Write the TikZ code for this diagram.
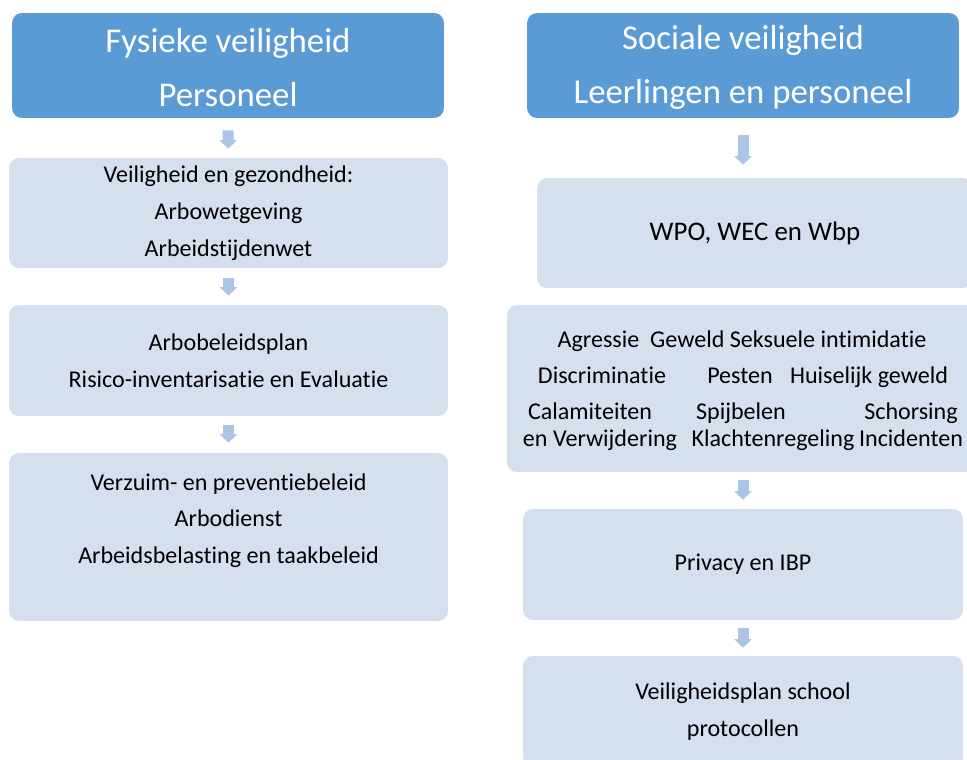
\documentclass[tikz,border=0pt]{standalone}
\usepackage{fontspec}
\setmainfont{Carlito}[Ligatures={NoCommon}]
\usetikzlibrary{arrows.meta}
\definecolor{headblue}{RGB}{91,155,213}
\definecolor{boxblue}{RGB}{213,224,239}
\definecolor{arrowblue}{RGB}{172,196,230}
\begin{document}
\begin{tikzpicture}
[x=0.02cm, y=-0.02cm,
head/.style={rounded corners=0.2cm, fill=headblue, text=white, align=center,
  font=\fontsize{19.8}{30.6}\selectfont, minimum width=8.64cm, minimum height=2.1cm},
box/.style={rounded corners=0.2cm, fill=boxblue, align=center,
  font=\fontsize{13.7}{21}\selectfont},
item/.style={anchor=base, font=\fontsize{13.7}{21}\selectfont},
flow/.style={draw=arrowblue, line width=0.22cm, -{Triangle[width=0.34cm, length=0.17cm]}}
]
\useasboundingbox (0,0) rectangle (967,760);
\clip (0,0) rectangle (967,760);

% Fysieke veiligheid
\node[head] (h1) at (228,65.5) {\rule{0pt}{16pt}Fysieke veiligheid\\Personeel};
\node[box, minimum width=8.78cm, minimum height=2.2cm] (l1) at (228.5,213)
  {Veiligheid en gezondheid:\\Arbowetgeving\\Arbeidstijdenwet};
\node[box, minimum width=8.78cm, minimum height=2.22cm] (l2) at (228.5,360.5)
  {Arbobeleidsplan\\Risico-inventarisatie en Evaluatie};
\node[box, minimum width=8.78cm, minimum height=3.36cm] (l3) at (228.5,537)
  {Verzuim- en preventiebeleid\\Arbodienst\\Arbeidsbelasting en taakbeleid\\\mbox{}};

\draw[flow, shorten <=12*0.02cm, shorten >=9*0.02cm] (h1) -- (l1);
\draw[flow, shorten <=10*0.02cm, shorten >=9*0.02cm] (l1) -- (l2);
\draw[flow, shorten <=9*0.02cm, shorten >=10*0.02cm] (l2) -- (l3);

% Sociale veiligheid
\node[head] (h2) at (743,65.5) {\rule{0pt}{16pt}Sociale veiligheid\\Leerlingen en personeel};
\node[box, minimum width=8.72cm, minimum height=2.2cm, font=\fontsize{15.3}{21}\selectfont] (r1) at (755,233)
  {WPO, WEC en Wbp};
\node[box, minimum width=9.4cm, minimum height=3.34cm] (r2) at (742,388.5) {};
\node[box, minimum width=8.8cm, minimum height=2.22cm] (r3) at (743,564.5)
  {Privacy en IBP};
\node[box, minimum width=8.8cm, minimum height=2.22cm] (r4) at (743,711.5)
  {Veiligheidsplan school\\protocollen};

\node[item] (t1) at (742,347) {Agressie\ \ Geweld Seksuele intimidatie};
\node[item] (t2) at (602,383) {Discriminatie};
\node[item] (t3) at (740,383) {Pesten};
\node[item] (t4) at (869,383) {Huiselijk geweld};
\node[item] (t5) at (590,419) {Calamiteiten};
\node[item] (t6) at (741,419) {Spijbelen};
\node[item] (t7) at (911,419) {Schorsing};
\node[item] (t8) at (600,446) {en Verwijdering};
\node[item] (t9) at (773,446) {Klachtenregeling};
\node[item] (t10) at (911,446) {Incidenten};

\draw[flow, shorten <=17*0.02cm, shorten >=13*0.02cm] (h2.south) -- (h2.south |- r1.north);
\draw[flow, shorten <=8*0.02cm, shorten >=9*0.02cm] (r2.south -| r3.north) -- (r3);
\draw[flow, shorten <=8*0.02cm, shorten >=8*0.02cm] (r3) -- (r4);
\end{tikzpicture}
\end{document}
